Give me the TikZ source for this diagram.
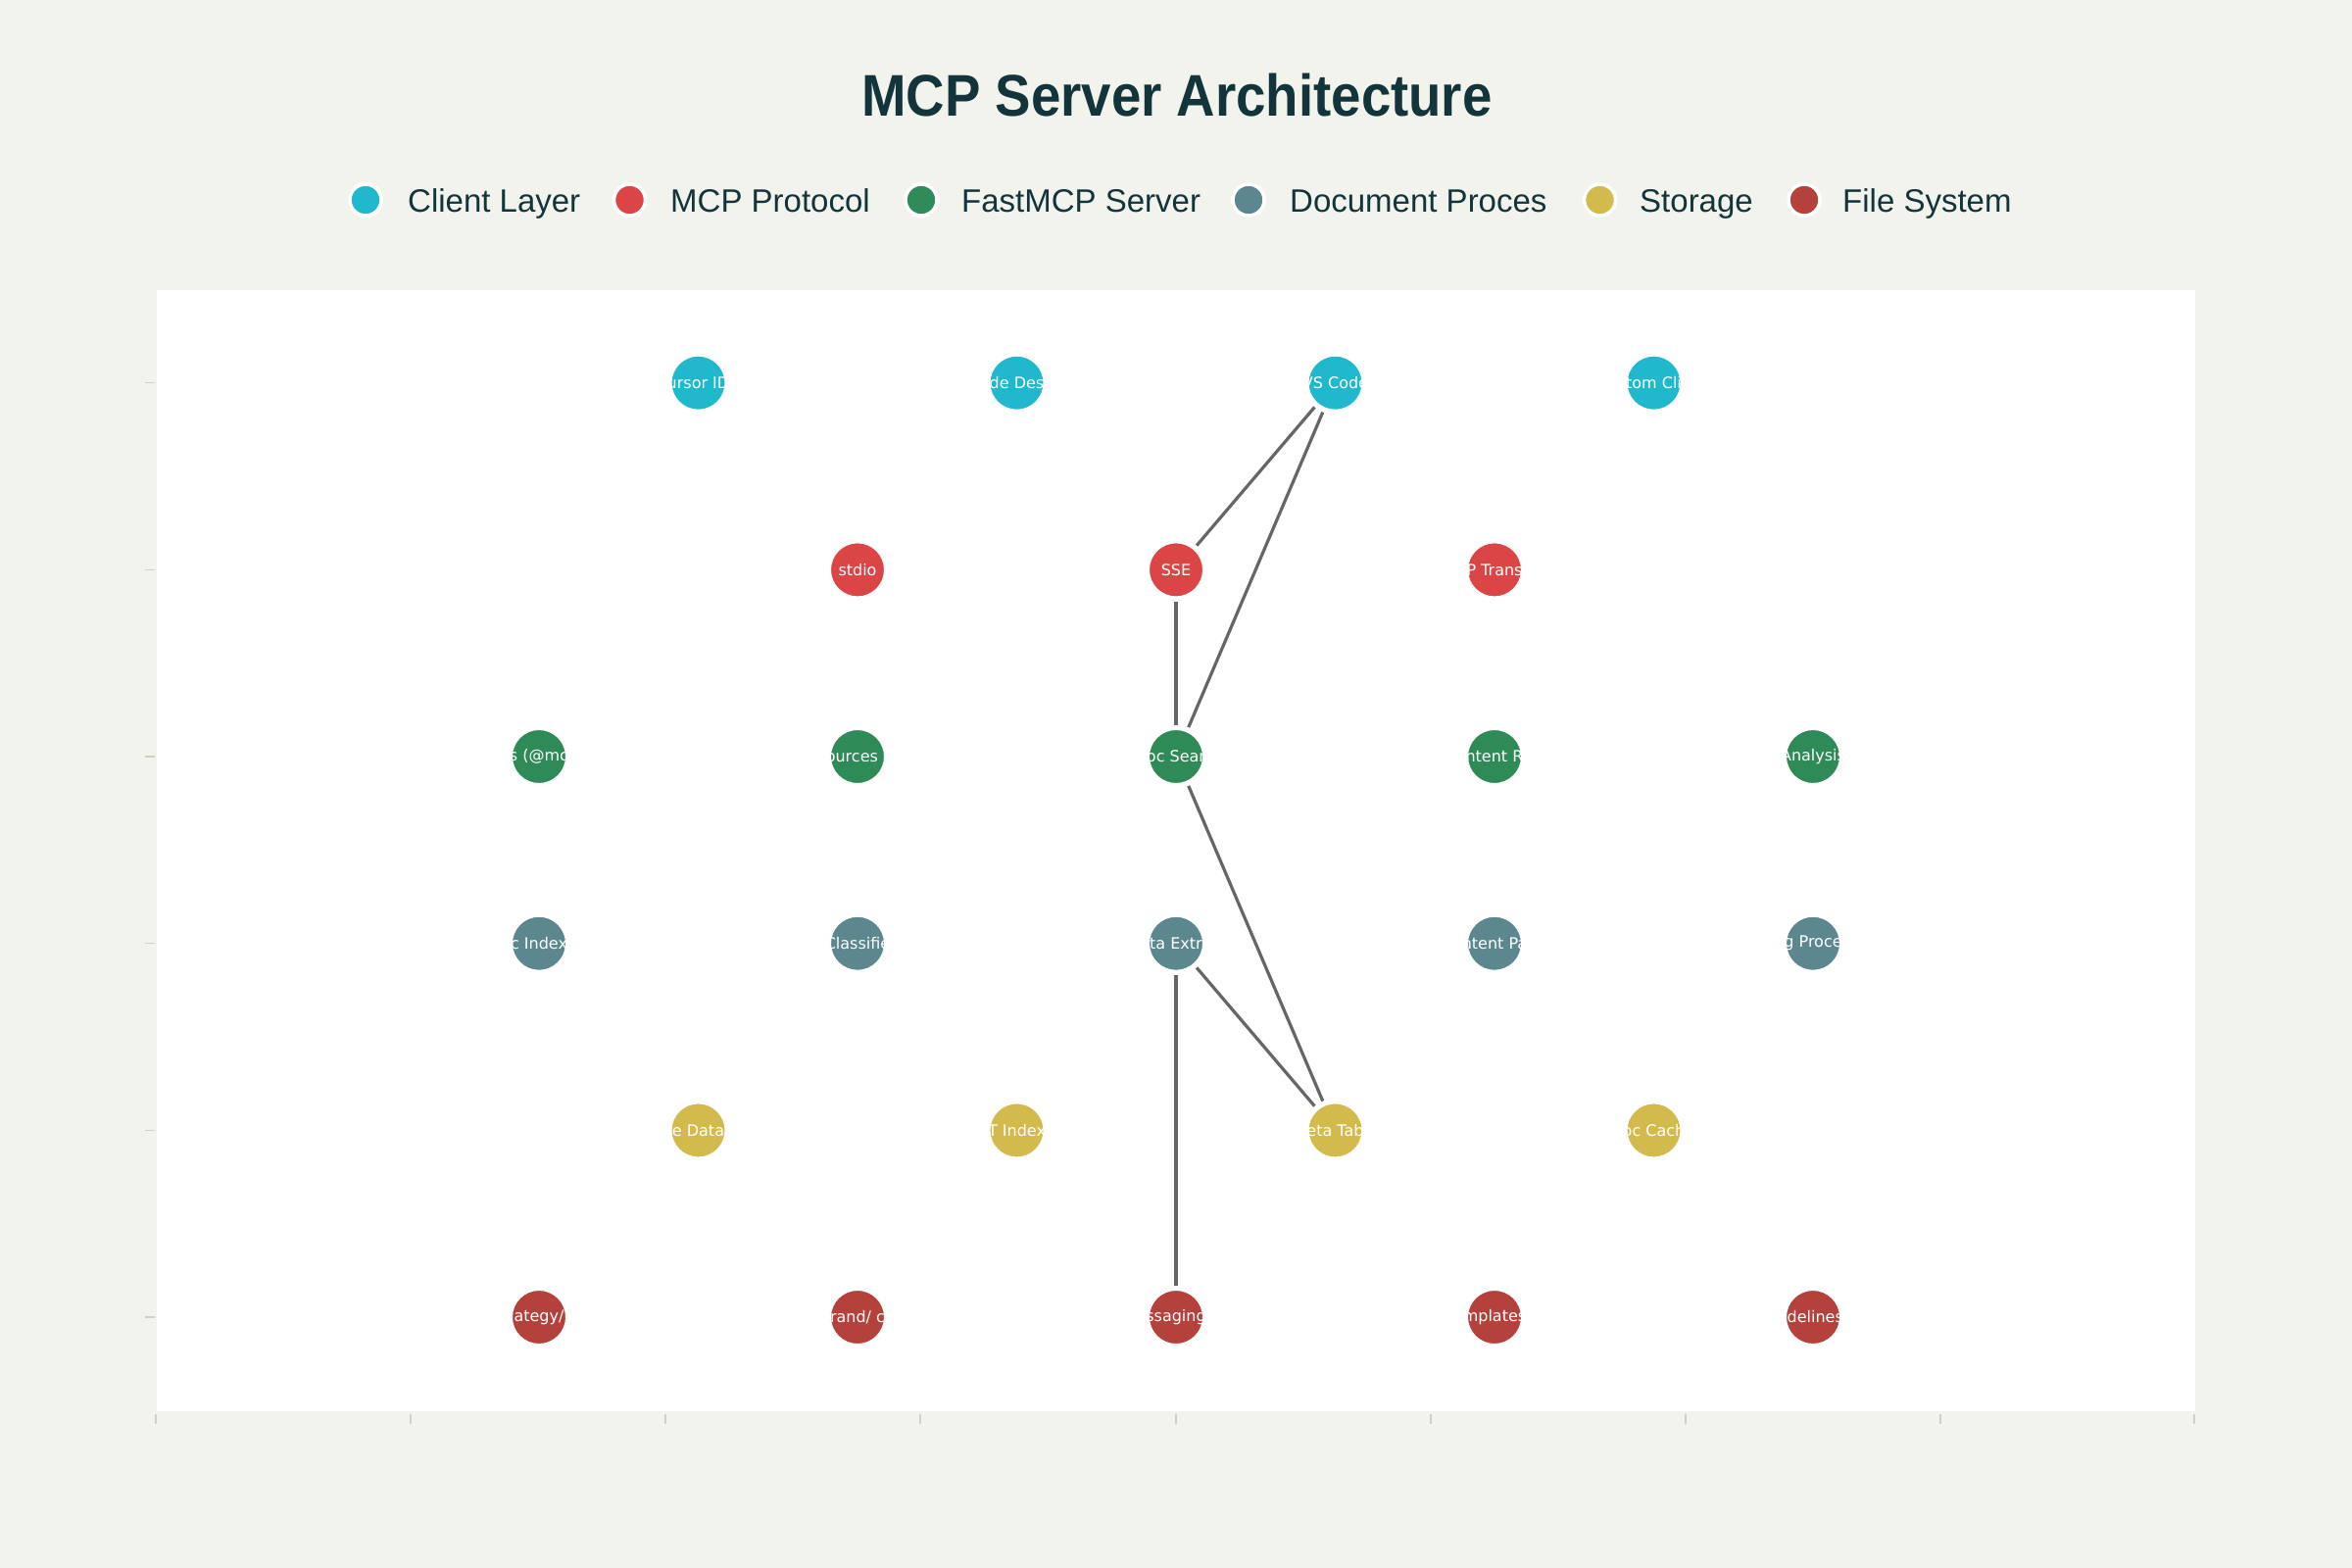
\documentclass[tikz,border=0pt]{standalone}
\usepackage{fontspec}
\setmainfont{Liberation Sans}
\newfontfamily\nodefont{DejaVu Sans}
\definecolor{bgpaper}{HTML}{F3F3EE}
\definecolor{titlecol}{HTML}{13343B}
\definecolor{ccyan}{HTML}{1FB8CD}
\definecolor{cred}{HTML}{DB4545}
\definecolor{cgreen}{HTML}{2E8B57}
\definecolor{cslate}{HTML}{5D878F}
\definecolor{cyellow}{HTML}{D2BA4C}
\definecolor{cbrown}{HTML}{B4413C}
\definecolor{conncol}{HTML}{666666}
\definecolor{tickcol}{HTML}{CFCFC8}
\tikzset{
  mnode/.style={circle, minimum size=55pt, inner sep=0pt, draw=white, line width=1pt, outer sep=5pt},
  nodetext/.style={text=white, font=\nodefont\fontsize{16}{19}\selectfont, inner sep=0pt},
  legmark/.style={circle, minimum size=32pt, inner sep=0pt, draw=white, line width=3.5pt},
  legtext/.style={anchor=base west, text=titlecol, font=\fontsize{33}{39}\selectfont, inner sep=0pt},
  conn/.style={draw=conncol, line width=3.2pt},
  tickline/.style={draw=tickcol, line width=1.5pt}
}
\newcommand\mnd[5]{\node[mnode, fill=#4, path picture={\node[nodetext] at (path picture bounding box.center) {#5};}] (#1) at (#2,#3) {};}
\begin{document}
\begin{tikzpicture}[x=1pt,y=-1pt]
\useasboundingbox (0,0) rectangle (2400,1600);
\fill[bgpaper] (0,0) rectangle (2400,1600);
\fill[white] (160,296) rectangle (2240,1440);
% ticks
\foreach \yy in {390.7,581.4,772,962.7,1153.4,1344} {\draw[tickline] (148,\yy) -- (158,\yy);}
\foreach \xx in {159,419,679,939,1200,1460,1720,1980,2239} {\draw[tickline] (\xx,1443) -- (\xx,1453);}
% title
\node[anchor=base, text=titlecol, inner sep=0pt, font=\bfseries\fontsize{60}{70}\selectfont] (title) at (1201,119) {\scalebox{0.91}[1]{MCP Server Architecture}};
% legend
\node[legmark, fill=ccyan] (l1) at (373,204) {};
\node[legtext] (lt1) at (416,216) {Client Layer};
\node[legmark, fill=cred] (l2) at (642.5,204) {};
\node[legtext] (lt2) at (684,216) {MCP Protocol};
\node[legmark, fill=cgreen] (l3) at (940,204) {};
\node[legtext] (lt3) at (981,216) {FastMCP Server};
\node[legmark, fill=cslate] (l4) at (1274,204) {};
\node[legtext] (lt4) at (1316,216) {Document Proces};
\node[legmark, fill=cyellow] (l5) at (1632.5,204) {};
\node[legtext] (lt5) at (1673,216) {Storage};
\node[legmark, fill=cbrown] (l6) at (1841,204) {};
\node[legtext] (lt6) at (1880,216) {File System};
% row 1
\mnd{cursor}{712.5}{390.7}{ccyan}{ursor ID}
\mnd{claude}{1037.5}{390.7}{ccyan}{de Des}
\mnd{vscode}{1362.5}{390.7}{ccyan}{VS Code}
\mnd{custom}{1687.5}{390.7}{ccyan}{tom Cli}
% row 2
\mnd{stdio}{875}{581.4}{cred}{stdio}
\mnd{sse}{1200}{581.4}{cred}{SSE}
\mnd{http}{1525}{581.4}{cred}{P Trans}
% row 3
\mnd{tools}{550}{772}{cgreen}{s (@mc}
\mnd{resources}{875}{772}{cgreen}{ources (}
\mnd{docsearch}{1200}{772}{cgreen}{oc Sear}
\mnd{contentr}{1525}{772}{cgreen}{ntent R}
\mnd{analysis}{1850}{772}{cgreen}{Analysis}
% row 4
\mnd{docindex}{550}{962.7}{cslate}{c Index}
\mnd{classifier}{875}{962.7}{cslate}{Classifie}
\mnd{metaextr}{1200}{962.7}{cslate}{ta Extr}
\mnd{contentp}{1525}{962.7}{cslate}{ntent Pa}
\mnd{procs}{1850}{962.7}{cslate}{g Proce}
% row 5
\mnd{database}{712.5}{1153.4}{cyellow}{e Data}
\mnd{ftindex}{1037.5}{1153.4}{cyellow}{T Index}
\mnd{metatable}{1362.5}{1153.4}{cyellow}{eta Tab}
\mnd{doccache}{1687.5}{1153.4}{cyellow}{oc Cach}
% row 6
\mnd{strategy}{550}{1344}{cbrown}{ategy/}
\mnd{brand}{875}{1344}{cbrown}{rand/ c}
\mnd{messaging}{1200}{1344}{cbrown}{ssaging}
\mnd{templates}{1525}{1344}{cbrown}{mplates}
\mnd{guidelines}{1850}{1344}{cbrown}{idelines}
% connectors
\draw[conn] (vscode) -- (sse);
\draw[conn] (vscode) -- (docsearch);
\draw[conn] (sse) -- (docsearch);
\draw[conn] (docsearch) -- (metatable);
\draw[conn] (metaextr) -- (metatable);
\draw[conn] (metaextr) -- (messaging);
\end{tikzpicture}
\end{document}
